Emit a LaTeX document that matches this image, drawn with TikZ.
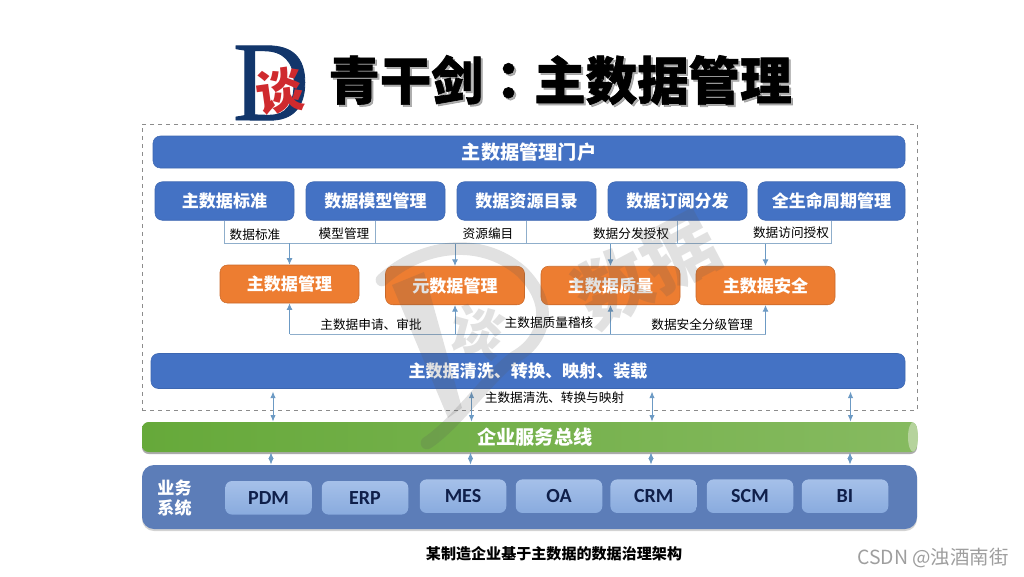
\documentclass[tikz,border=0pt]{standalone}
\usepackage{fontspec}
\usetikzlibrary{shapes.geometric,shadows,arrows.meta,calc}
\setmainfont{Noto Sans CJK SC}
\newfontfamily\titlefont[BoldFeatures={FakeBold=1.2}]{Noto Sans CJK SC}
\newfontfamily\titlecolon[BoldFeatures={FakeBold=1.2}]{Noto Sans CJK TC}
\newfontfamily\latinbox{Carlito}
\newfontfamily\logoserif[FakeBold=.8]{Liberation Serif}
\definecolor{barblue}{HTML}{4472C4}
\definecolor{bardraw}{HTML}{3D67B1}
\definecolor{boxorange}{HTML}{ED7D31}
\definecolor{orangedraw}{HTML}{C9692A}
\definecolor{wirecol}{HTML}{8FAECB}
\definecolor{arrowcol}{HTML}{6C9AC4}
\definecolor{bizblue}{HTML}{5C7DB8}
\definecolor{navy}{HTML}{0F1F4A}
\definecolor{logoblue}{HTML}{12366B}
\definecolor{logored}{HTML}{CF2A2E}
\definecolor{systop}{HTML}{A5C0E9}
\definecolor{sysbot}{HTML}{89ABDE}
\definecolor{busleft}{HTML}{66A93A}
\definecolor{busright}{HTML}{86BA60}
\definecolor{buscap}{HTML}{B5D39C}
\tikzset{
  wh/.style 2 args={minimum width=#1*0.75pt,minimum height=#2*0.75pt,inner sep=0pt},
  bluebox/.style={fill=barblue,draw=bardraw,line width=.4pt,rounded corners=5.5pt,text=white,font=\fontsize{12.8}{14}\selectfont\bfseries},
  orangebox/.style={fill=boxorange,draw=orangedraw,line width=.4pt,rounded corners=5.5pt,text=white,font=\fontsize{12.8}{14}\selectfont\bfseries},
  bigtext/.style={font=\fontsize{14.4}{16}\selectfont\bfseries},
  lab/.style={inner sep=0pt,font=\fontsize{9.5}{11}\selectfont,text=black},
  wire/.style={draw=wirecol,line width=.7pt},
  arr/.style={draw=arrowcol,line width=.7pt,-{Latex[length=5pt,width=4.5pt]}},
  dbl/.style={draw=arrowcol,line width=.7pt,{Latex[length=5pt,width=4pt]}-{Latex[length=5pt,width=4pt]}},
  sysbox/.style={wh={86.5}{33.5},rounded corners=5pt,top color=systop,bottom color=sysbot,text=navy,font=\fontsize{15}{17}\selectfont\latinbox\bfseries},
  wmark/.style={draw=black!65,line cap=round,opacity=.18},
  wmtext/.style={text=black!65,text opacity=.18,font=\fontsize{56}{60}\selectfont\bfseries},
}
\begin{document}
\begin{tikzpicture}[x=0.75pt,y=-0.75pt]
\useasboundingbox (0,0) rectangle (1024,576);
% logo
\node[inner sep=0pt,text=logoblue,xscale=.93,font=\fontsize{85}{90}\selectfont\logoserif] (logoD) at (271,83) {D};
\node[inner sep=0pt,text=logored,rotate=8,font=\fontsize{36}{40}\selectfont\bfseries] (logoT) at (280,91) {谈};
% title
\node[inner sep=0pt,text=black!45,opacity=.7,font=\fontsize{38.6}{42}\selectfont\titlefont\bfseries] (titleshadow) at (562,82) {青干剑{\titlecolon ：}主数据管理};
\node[inner sep=0pt,text=black,font=\fontsize{38.6}{42}\selectfont\titlefont\bfseries] (title) at (560,80) {青干剑{\titlecolon ：}主数据管理};
% frame
\node[wh={775}{286},draw=black!45,dashed,line width=.4pt] (frame) at (529.5,267) {};
% top
\node[bluebox,bigtext,wh={752}{32}] (portal) at (529,152) {主数据管理门户};
\node[bluebox,wh={139}{38.5}] (a) at (224.5,201) {主数据标准};
\node[bluebox,wh={139}{38.5}] (b) at (375.5,201) {数据模型管理};
\node[bluebox,wh={139}{38.5}] (c) at (526.5,201) {数据资源目录};
\node[bluebox,wh={139}{38.5}] (d) at (677.5,201) {数据订阅分发};
\node[bluebox,wh={147}{38.5}] (e) at (831.5,201) {全生命周期管理};
% orange
\node[orangebox,wh={139}{38}] (m1) at (289.5,284) {主数据管理};
\node[orangebox,wh={139}{38.5}] (m2) at (455,285.5) {元数据管理};
\node[orangebox,wh={139}{38.5}] (m3) at (610.5,285.5) {主数据质量};
\node[orangebox,wh={139}{38.5}] (m4) at (765.5,285.5) {主数据安全};
% buses
\coordinate (busa) at (0,243);
\coordinate (busb) at (0,243.5);
\coordinate (busc) at (0,334);
\draw[wire] (a.south) |- (busa -| b.south);
\draw[wire] (b.south) |- (busb -| e.south) -- (e.south);
\draw[wire] (c.south) -- (c.south |- busb);
\draw[wire] (d.south) -- (d.south |- busb);
\draw[arr] (m1.north |- busa) -- (m1.north);
\draw[arr] (m2.north |- busb) -- (m2.north);
\draw[arr] (m3.north |- busb) -- (m3.north);
\draw[arr] (m4.north |- busb) -- (m4.north);
\draw[wire] (m1.south |- busc) -- (m4.south |- busc);
\draw[arr] (m1.south |- busc) -- (m1.south);
\draw[arr] (m2.south |- busc) -- (m2.south);
\draw[arr] (m3.south |- busc) -- (m3.south);
\draw[arr] (m4.south |- busc) -- (m4.south);
% labels
\node[lab] (l1) at (255,235) {数据标准};
\node[lab] (l2) at (344,234) {模型管理};
\node[lab] (l3) at (488,234) {资源编目};
\node[lab] (l4) at (631,233.5) {数据分发授权};
\node[lab] (l5) at (791,233) {数据访问授权};
\node[lab] (l6) at (371,325) {主数据申请、审批};
\node[lab] (l7) at (549,323) {主数据质量稽核};
\node[lab] (l8) at (702,325) {数据安全分级管理};
% clean bar
\node[bluebox,wh={754}{35}] (clean) at (528,371) {主数据清洗、转换、映射、装载};
\node[lab] (l9) at (554.5,398) {主数据清洗、转换与映射};
% bus
\node[wh={775}{30},rounded corners=5pt,left color=busleft,right color=busright,draw=none,drop shadow={shadow xshift=0pt,shadow yshift=-1.5pt,opacity=.55,fill=black!60},text=white,bigtext] (esb) at (529.5,437) {\hspace*{8pt}企业服务总线};
\node[ellipse,minimum width=7.5pt,minimum height=22pt,inner sep=0pt,fill=buscap] (esbcap) at (913,437) {};
% business
\node[wh={775}{64},rounded corners=9pt,fill=bizblue,drop shadow={shadow xshift=0pt,shadow yshift=-1.5pt,opacity=.35,fill=black!50}] (biz) at (529.5,497) {};
\node[inner sep=0pt,align=center,text=white,font=\fontsize{12.8}{15}\selectfont\bfseries] (bizlab) at (174.5,498) {业务\\系统};
\node[sysbox] (s1) at (268.5,497.8) {PDM};
\node[sysbox] (s2) at (365,497.8) {ERP};
\node[sysbox] (s3) at (463,496.2) {MES};
\node[sysbox] (s4) at (559,496.2) {OA};
\node[sysbox] (s5) at (653.7,496.2) {CRM};
\node[sysbox] (s6) at (750,496.2) {SCM};
\node[sysbox] (s7) at (845,496.2) {BI};
% double arrows
\coordinate (t1) at (273,0);
\coordinate (t2) at (471.5,0);
\coordinate (t3) at (652,0);
\coordinate (t4) at (850.5,0);
\coordinate (u1) at (271,0);
\coordinate (u2) at (470.5,0);
\coordinate (u3) at (651,0);
\coordinate (u4) at (850,0);
\foreach \p in {t1,t2,t3,t4}{\draw[dbl,shorten <=2pt] (\p |- clean.south) -- (\p |- esb.north);}
\foreach \p in {u1,u2,u3,u4}{\draw[dbl] (\p |- esb.south) -- (\p |- biz.north);}
% caption
\node[inner sep=0pt,text=black,font=\fontsize{11.3}{13}\selectfont\bfseries] (caption) at (554,554) {某制造企业基于主数据的数据治理架构};
\node[inner sep=0pt,text=black!38,font=\fontsize{14.6}{16}\selectfont] (csdn) at (933,558) {CSDN @浊酒南街};
% watermark
\draw[wmark,line width=9.5pt] (382,280) .. controls (420,245) and (480,235) .. (522,272) .. controls (555,305) and (545,340) .. (515,357) .. controls (490,375) and (455,425) .. (427,443);
\fill[black!65,opacity=.18] (392,285) -- (424,272) -- (462,408) -- (448,418) -- cycle;
\node[wmtext,rotate=-15,font=\fontsize{40}{44}\selectfont\bfseries] (wmtan) at (478,332) {谈};
\node[wmtext,rotate=28] (wmdata) at (646,270) {数据};
\end{tikzpicture}
\end{document}
